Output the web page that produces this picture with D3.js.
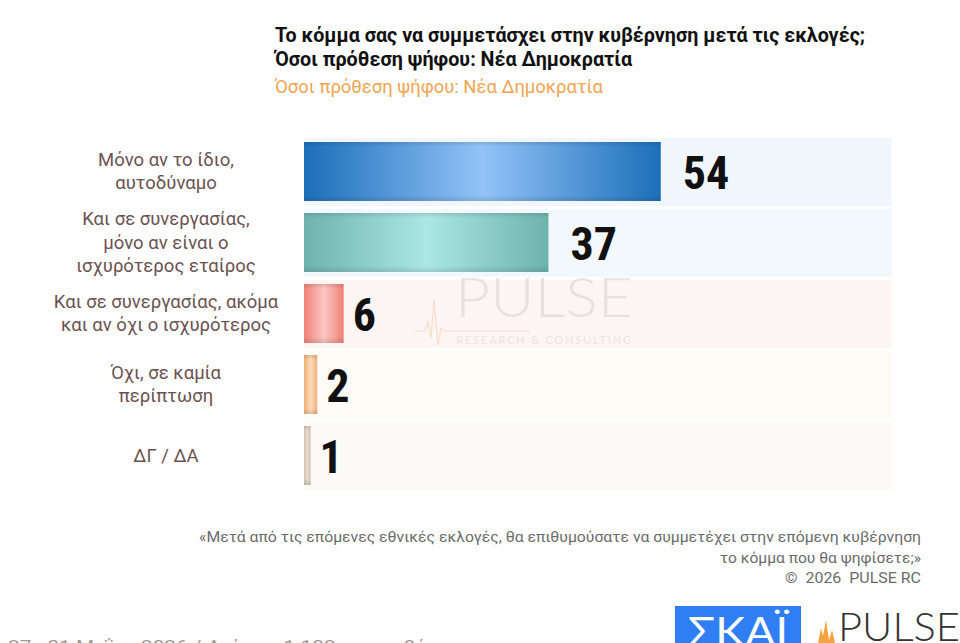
<!DOCTYPE html>
<html><head><meta charset="utf-8">
<script src="https://cdn.jsdelivr.net/npm/d3@7"></script>
<style>
html,body{margin:0;padding:0;background:#fff;overflow:hidden}
svg{display:block}
text{white-space:pre}
</style></head>
<body>
<svg id="chart" width="960" height="643"></svg>
<script>
// ---- data ----
const categories = [
  ["Μόνο αν το ίδιο,", "αυτοδύναμο"],
  ["Και σε συνεργασίας,", "μόνο αν είναι ο", "ισχυρότερος εταίρος"],
  ["Και σε συνεργασίας, ακόμα", "και αν όχι ο ισχυρότερος"],
  ["Όχι, σε καμία", "περίπτωση"],
  ["ΔΓ / ΔΑ"]
];
const values = [54, 37, 6, 2, 1];
const titleLines = ["Το κόμμα σας να συμμετάσχει στην κυβέρνηση μετά τις εκλογές;", "Όσοι πρόθεση ψήφου: Νέα Δημοκρατία"];
const subtitle = "Όσοι πρόθεση ψήφου: Νέα Δημοκρατία";
const noteLines = ["«Μετά από τις επόμενες εθνικές εκλογές, θα επιθυμούσατε να συμμετέχει στην επόμενη κυβέρνηση", "το κόμμα που θα ψηφίσετε;»", "©  2026  PULSE RC"];
const footLeft = "27 - 31 Μαΐου 2026 / Δείγμα: 1.102 ερωτηθέντες";

// ---- styles ----
const palette = [
  {edge:"#1b6fb9", mid:"#93c3f7", band:"#f0f6fc"},
  {edge:"#6db3ad", mid:"#abe7e4", band:"#f2f8fb"},
  {edge:"#ef8177", mid:"#fcc8c2", band:"#fdf5f4"},
  {edge:"#f0b07a", mid:"#fcdcb8", band:"#fefaf5"},
  {edge:"#d2c0b0", mid:"#e8dcd0", band:"#fcfaf7"}
];

const svg = d3.select("#chart");
const defs = svg.append("defs");
palette.forEach((p,i)=>{
  const g = defs.append("linearGradient").attr("id","g"+i).attr("x1","0").attr("x2","1").attr("y1","0").attr("y2","0");
  g.append("stop").attr("offset","0%").attr("stop-color",p.edge);
  g.append("stop").attr("offset","50%").attr("stop-color",p.mid);
  g.append("stop").attr("offset","100%").attr("stop-color",p.edge);
});
const vg = defs.append("linearGradient").attr("id","vshade").attr("x1","0").attr("x2","0").attr("y1","0").attr("y2","1");
vg.append("stop").attr("offset","0%").attr("stop-color","#000").attr("stop-opacity",0.12);
vg.append("stop").attr("offset","8%").attr("stop-color","#000").attr("stop-opacity",0);
vg.append("stop").attr("offset","90%").attr("stop-color","#000").attr("stop-opacity",0);
vg.append("stop").attr("offset","100%").attr("stop-color","#000").attr("stop-opacity",0.12);

const x = d3.scaleLinear().domain([0, 89]).range([304, 892]);
const idx = d3.range(values.length);
const y = d3.scaleBand().domain(idx).range([136, 491]).paddingInner(0.17).paddingOuter(0.085);

// background bands
svg.append("g").selectAll("rect").data(idx).join("rect")
  .attr("x", x(0)).attr("width", x(89) - x(0))
  .attr("y", i => y(i) - 4).attr("height", y.bandwidth() + 9)
  .attr("fill", i => palette[i].band);

// watermark
const wm = svg.append("g").attr("opacity", 0.5);
wm.append("text").attr("x", 455).attr("y", 317).text("PULSE")
  .attr("font-family","Lato, 'Open Sans', sans-serif").attr("font-weight",300)
  .attr("font-size", 55).attr("fill","#d0d0d0").attr("textLength",178).attr("lengthAdjust","spacingAndGlyphs");
wm.append("text").attr("x", 456).attr("y", 344).text("RESEARCH & CONSULTING")
  .attr("font-family","Lato, sans-serif").attr("font-size", 11).attr("fill","#d6d6d6").attr("textLength",175);
wm.append("path").attr("d","M415,331 L425,331 L428,322 L431,338 L434,300 L438,345 L441,328 L444,331 L530,331")
  .attr("fill","none").attr("stroke","#f3c9a0").attr("stroke-width",1.2);

// bars
const bars = svg.append("g");
bars.selectAll("rect.bar").data(idx).join("rect").attr("class","bar")
  .attr("x", x(0)).attr("width", i => x(values[i]) - x(0))
  .attr("y", i => y(i)).attr("height", y.bandwidth())
  .attr("fill", i => `url(#g${i})`);
bars.selectAll("rect.sh").data(idx).join("rect").attr("class","sh")
  .attr("x", x(0)).attr("width", i => x(values[i]) - x(0))
  .attr("y", i => y(i)).attr("height", y.bandwidth())
  .attr("fill", "url(#vshade)");

// value labels
svg.append("g").selectAll("text").data(idx).join("text")
  .attr("x", i => x(values[i]) + (values[i] >= 10 ? 22 : 9))
  .attr("y", i => y(i) + y.bandwidth()/2 + 17)
  .attr("font-family","'Liberation Sans Narrow','Roboto Condensed','DejaVu Sans Condensed',sans-serif")
  .attr("font-weight","bold").attr("font-size",46).attr("fill","#111")
  .text(i => values[i]);

// category labels
const cl = svg.append("g").attr("font-family","Roboto, 'Noto Sans', sans-serif").attr("font-size",18.5).attr("fill","#6b5252");
idx.forEach(i=>{
  const lines = categories[i];
  const cy = y(i) + y.bandwidth()/2;
  const lh = 23.5;
  lines.forEach((t,j)=>{
    cl.append("text").attr("x",166).attr("text-anchor","middle")
      .attr("y", cy + (j - (lines.length-1)/2)*lh + 6).text(t);
  });
});

// titles
const tg = svg.append("g").attr("font-family","Roboto, 'Noto Sans', sans-serif");
tg.append("text").attr("x",275).attr("y",42).attr("font-weight","bold").attr("font-size",19.5).attr("fill","#111")
  .attr("textLength",590).attr("lengthAdjust","spacingAndGlyphs").text(titleLines[0]);
tg.append("text").attr("x",275).attr("y",66).attr("font-weight","bold").attr("font-size",19.5).attr("fill","#111")
  .attr("textLength",357).attr("lengthAdjust","spacingAndGlyphs").text(titleLines[1]);
tg.append("text").attr("x",275).attr("y",93).attr("font-size",18).attr("fill","#efa552")
  .attr("textLength",328).attr("lengthAdjust","spacingAndGlyphs").text(subtitle);

// note
const ng = svg.append("g").attr("font-family","'Liberation Sans Narrow', Roboto, sans-serif").attr("font-size",15.5).attr("fill","#6b6b6b").attr("text-anchor","end");
const noteW = [722, 201, 136];
noteLines.forEach((t,j)=>{
  ng.append("text").attr("x",921).attr("y",542 + j*20.5).attr("textLength",noteW[j]).attr("lengthAdjust","spacingAndGlyphs").text(t);
});

// bottom-left (cut) footer
svg.append("text").attr("x",8).attr("y",652).attr("font-family","Roboto, sans-serif").attr("font-size",17).attr("fill","#9a9a9a")
  .attr("textLength",462).attr("lengthAdjust","spacingAndGlyphs").text(footLeft);

// logos
svg.append("rect").attr("x",675).attr("y",606).attr("width",126).attr("height",40).attr("fill","#2f7ef3");
svg.append("text").attr("x",738).attr("y",646).attr("text-anchor","middle").attr("font-family","Lato, 'DejaVu Sans', sans-serif")
  .attr("font-size",40).attr("fill","#fff").attr("textLength",100).attr("lengthAdjust","spacingAndGlyphs").text("ΣΚΑΪ");
svg.append("path").attr("d","M818,643 L821,628 L823,636 L826,620 L829,640 L832,630 L835,643 Z").attr("fill","#f5a340");
svg.append("text").attr("x",838).attr("y",641).attr("font-family","Lato, 'Open Sans', sans-serif").attr("font-weight",300)
  .attr("font-size",40).attr("fill","#333").attr("textLength",122).attr("lengthAdjust","spacingAndGlyphs").text("PULSE");
</script>
</body></html>
